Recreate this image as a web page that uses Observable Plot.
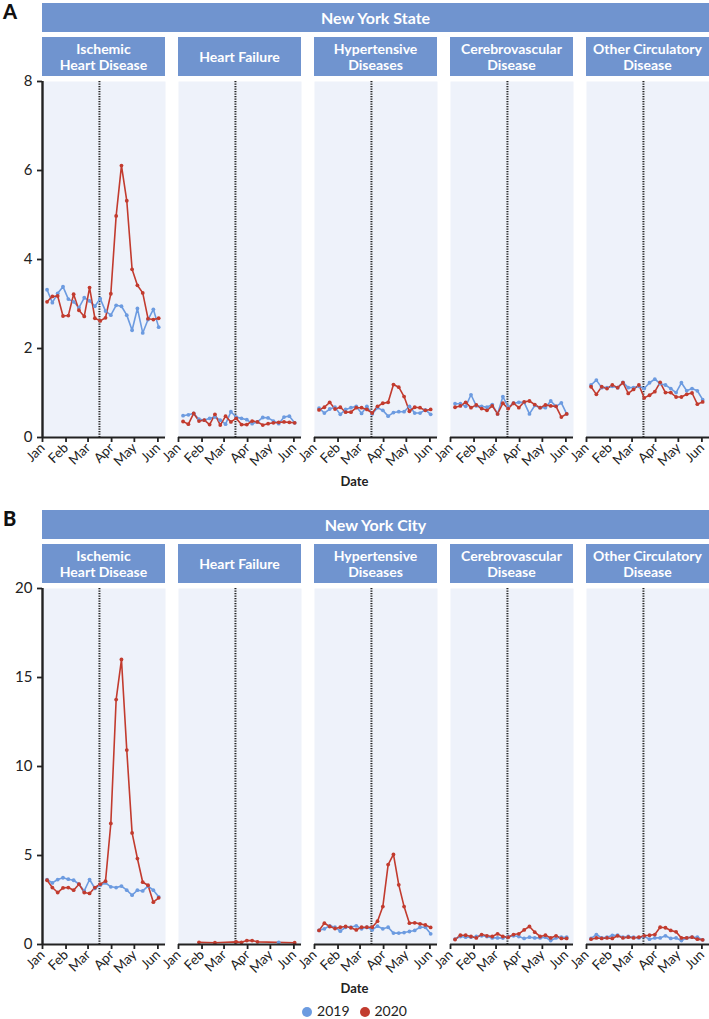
<!DOCTYPE html>
<html>
<head>
<meta charset="utf-8">
<script src="https://cdn.jsdelivr.net/npm/d3@7"></script>
<script src="https://cdn.jsdelivr.net/npm/@observablehq/plot@0.6"></script>
<style>
  html, body { margin: 0; padding: 0; background: #fff; }
  body { width: 709px; height: 1019px; position: relative; font-family: Lato, "Open Sans", sans-serif; color: #222; overflow: hidden; }
  .abs { position: absolute; }
  .letter { font-weight: 900; font-size: 20px; color: #111; }
  .band { background: #7094cf; color: #fff; font-weight: 700; font-size: 16px; display: flex; align-items: center; justify-content: center; }
  .fhead { background: #7094cf; color: #fff; font-weight: 700; font-size: 14px; line-height: 16px; display: flex; align-items: center; justify-content: center; text-align: center; }
  .xlabel { font-weight: 700; font-size: 13px; width: 709px; text-align: center; }
  .legend { font-size: 14px; display: flex; gap: 10px; justify-content: center; width: 709px; align-items: center; }
  .legend span.sw { display: inline-block; width: 10px; height: 10px; border-radius: 50%; margin-right: 5px; vertical-align: -0.5px; }
</style>
</head>
<body>
<script>
// ---- data ----
const weeks = ["2020-01-07","2020-01-14","2020-01-21","2020-01-28","2020-02-04","2020-02-11","2020-02-18","2020-02-25",
  "2020-03-03","2020-03-10","2020-03-17","2020-03-24","2020-03-31","2020-04-07","2020-04-14","2020-04-21",
  "2020-04-28","2020-05-05","2020-05-12","2020-05-19","2020-05-26","2020-06-02"];
const causes = ["Ischemic\nHeart Disease","Heart Failure","Hypertensive\nDiseases","Cerebrovascular\nDisease","Other Circulatory\nDisease"];
const years = ["2019","2020"];
const monthTicks = ["2020-01-01","2020-02-01","2020-03-01","2020-04-01","2020-05-01","2020-06-01"];
const lockdownDate = "2020-03-16";

// New York State
const nysIHD2019 = [3.32,3.03,3.24,3.39,3.11,3.05,2.92,3.14,3.07,2.95,3.12,2.84,2.75,2.97,2.95,2.75,2.41,2.90,2.35,2.65,2.88,2.48];
const nysIHD2020 = [3.05,3.17,3.18,2.73,2.74,3.22,2.86,2.72,3.37,2.68,2.62,2.69,3.23,4.98,6.11,5.32,3.78,3.42,3.25,2.67,2.65,2.68];
const nysHF2019  = [0.49,0.51,0.54,0.41,0.39,0.43,0.46,0.39,0.30,0.58,0.46,0.43,0.40,0.31,0.35,0.45,0.44,0.37,0.31,0.46,0.48,0.33];
const nysHF2020  = [0.36,0.30,0.54,0.37,0.39,0.29,0.52,0.28,0.48,0.35,0.43,0.29,0.29,0.37,0.35,0.28,0.31,0.33,0.34,0.35,0.34,0.33];
const nysHyp2019 = [0.66,0.55,0.64,0.68,0.52,0.63,0.67,0.70,0.54,0.70,0.53,0.67,0.61,0.48,0.56,0.58,0.58,0.70,0.55,0.55,0.62,0.52];
const nysHyp2020 = [0.62,0.68,0.79,0.64,0.68,0.57,0.57,0.67,0.67,0.63,0.55,0.70,0.77,0.79,1.19,1.13,0.92,0.59,0.68,0.67,0.61,0.63];
const nysCer2019 = [0.76,0.76,0.70,0.96,0.71,0.70,0.68,0.74,0.53,0.92,0.68,0.77,0.79,0.79,0.53,0.72,0.67,0.67,0.82,0.70,0.78,0.53];
const nysCer2020 = [0.68,0.71,0.79,0.67,0.73,0.65,0.61,0.71,0.53,0.77,0.65,0.77,0.67,0.80,0.82,0.74,0.67,0.73,0.71,0.70,0.46,0.53];
const nysOth2019 = [1.18,1.29,1.12,1.12,1.15,1.12,1.24,1.12,1.12,1.15,1.10,1.23,1.31,1.21,1.18,1.10,1.01,1.23,1.05,1.10,1.05,0.85];
const nysOth2020 = [1.14,0.97,1.14,1.10,1.18,1.12,1.23,0.99,1.08,1.18,0.89,0.95,1.03,1.24,1.01,1.01,0.91,0.91,0.97,1.00,0.75,0.80];

// New York City
const nycIHD2019 = [3.65,3.46,3.65,3.75,3.67,3.61,3.39,3.01,3.65,3.15,3.33,3.46,3.24,3.20,3.28,3.05,2.77,3.05,3.01,3.28,3.05,2.68];
const nycIHD2020 = [3.61,3.20,2.92,3.18,3.20,3.05,3.39,2.92,2.87,3.20,3.39,3.56,6.80,13.76,16.01,10.92,6.27,4.83,3.50,3.33,2.38,2.62];
const nycHF2019  = [null,null,null,null,null,null,null,null,null,null,null,null,null,null,null,null,null,null,0.12,null,null,null];
const nycHF2020  = [null,null,null,0.12,null,null,0.10,null,null,null,0.15,0.12,0.22,0.22,0.15,null,null,null,null,null,null,0.10];
const nycHyp2019 = [0.79,0.88,1.05,0.97,0.75,0.97,0.97,1.05,0.88,0.97,0.82,1.03,0.88,0.97,0.64,0.64,0.67,0.73,0.79,0.97,0.97,0.60];
const nycHyp2020 = [0.79,1.20,1.01,0.90,0.97,1.01,0.94,0.82,0.97,0.97,0.97,1.31,2.13,4.49,5.06,3.35,2.13,1.20,1.22,1.16,1.10,0.96];
const nycCer2019 = [0.30,0.45,0.41,0.41,0.45,0.49,0.45,0.37,0.37,0.36,0.45,0.49,0.45,0.34,0.41,0.37,0.37,0.41,0.22,0.37,0.41,0.41];
const nycCer2020 = [0.28,0.52,0.52,0.45,0.37,0.56,0.49,0.45,0.60,0.45,0.41,0.56,0.60,0.82,1.01,0.69,0.45,0.52,0.37,0.49,0.34,0.34];
const nycOth2019 = [0.34,0.56,0.37,0.41,0.51,0.52,0.41,0.45,0.41,0.37,0.45,0.30,0.37,0.37,0.49,0.34,0.37,0.22,0.37,0.41,0.41,0.26];
const nycOth2020 = [0.30,0.37,0.34,0.37,0.34,0.49,0.37,0.41,0.37,0.41,0.49,0.52,0.56,0.97,0.94,0.79,0.71,0.37,0.37,0.41,0.30,0.26];

const nysTicks = [0, 2, 4, 6, 8];
const nycTicks = [0, 5, 10, 15, 20];

// ---- build tables ----
function table(series) {
  const rows = [];
  series.forEach(([cause, year, vals]) => {
    vals.forEach((v, i) => {
      if (v != null) rows.push({cause, year, date: new Date(weeks[i]), value: v});
    });
  });
  return rows;
}
const nysData = table([
  [causes[0],"2019",nysIHD2019],[causes[0],"2020",nysIHD2020],
  [causes[1],"2019",nysHF2019],[causes[1],"2020",nysHF2020],
  [causes[2],"2019",nysHyp2019],[causes[2],"2020",nysHyp2020],
  [causes[3],"2019",nysCer2019],[causes[3],"2020",nysCer2020],
  [causes[4],"2019",nysOth2019],[causes[4],"2020",nysOth2020]
]);
const nycData = table([
  [causes[0],"2019",nycIHD2019],[causes[0],"2020",nycIHD2020],
  [causes[1],"2019",nycHF2019],[causes[1],"2020",nycHF2020],
  [causes[2],"2019",nycHyp2019],[causes[2],"2020",nycHyp2020],
  [causes[3],"2019",nycCer2019],[causes[3],"2020",nycCer2020],
  [causes[4],"2019",nycOth2019],[causes[4],"2020",nycOth2020]
]);

const BLUE = "#6c9be0", RED = "#c23b2e", HEAD = "#7094cf", BG = "#eef2fa";
const xStart = new Date("2020-01-01"), xEnd = new Date("2020-06-11");

function chart(data, ticks) {
  return Plot.plot({
    width: 709, height: 397,
    marginLeft: 42, marginRight: 0, marginTop: 5, marginBottom: 36,
    style: {fontFamily: "Lato, 'Open Sans', sans-serif", fontSize: "13.5px", color: "#222", background: "transparent", overflow: "visible"},
    fx: {domain: causes, paddingInner: 13 / 136, paddingOuter: 0, axis: null, label: null},
    x: {type: "utc", domain: [xStart, xEnd], label: null},
    y: {domain: [0, ticks[ticks.length - 1]], label: null},
    color: {domain: years, range: [BLUE, RED]},
    marks: [
      Plot.frame({fill: BG, stroke: null}),
      Plot.ruleX([new Date(lockdownDate)], {stroke: "#222", strokeWidth: 2, strokeDasharray: "1.2,1.3"}),
      Plot.line(data, {fx: "cause", x: "date", y: "value", z: "year", stroke: "year", strokeWidth: 1.6}),
      Plot.dot(data, {fx: "cause", x: "date", y: "value", fill: "year", r: 1.9, stroke: null}),
      Plot.axisX({ticks: monthTicks.map(d => new Date(d)), tickFormat: d3.utcFormat("%b"), tickRotate: -45, tickSize: 5, tickPadding: 3, strokeWidth: 1.8, stroke: "#222", fontSize: 13.5}),
      Plot.ruleY([0], {stroke: "#222", strokeWidth: 2.2}),
      Plot.axisY({ticks, tickSize: 5, tickPadding: 5, strokeWidth: 1.8, stroke: "#222", fontSize: 15, anchor: "left"}),
      Plot.ruleX([causes[0]], {fx: d => d, x: () => xStart, stroke: "#222", strokeWidth: 2.4})
    ]
  });
}

function section(top, letter, title, data, ticks) {
  const L = document.createElement("div");
  L.className = "abs letter"; L.style.left = "3px"; L.style.top = (top - 1) + "px"; L.textContent = letter;
  document.body.appendChild(L);
  const B = document.createElement("div");
  B.className = "abs band"; B.style.left = "42px"; B.style.top = (top + 3) + "px"; B.style.width = "667px"; B.style.height = "29px";
  B.textContent = title;
  document.body.appendChild(B);
  causes.forEach((c, i) => {
    const H = document.createElement("div");
    H.className = "abs fhead";
    H.style.left = (42 + i * 136) + "px"; H.style.top = (top + 37) + "px"; H.style.width = "123px"; H.style.height = "39px";
    H.innerHTML = c.split("\n").join("<br>");
    document.body.appendChild(H);
  });
  const S = document.createElement("div");
  S.className = "abs"; S.style.left = "0px"; S.style.top = (top + 76) + "px";
  S.appendChild(chart(data, ticks));
  document.body.appendChild(S);
  const D = document.createElement("div");
  D.className = "abs xlabel"; D.style.left = "0px"; D.style.top = (top + 473) + "px"; D.textContent = "Date";
  document.body.appendChild(D);
}

section(0, "A", "New York State", nysData, nysTicks);
section(507, "B", "New York City", nycData, nycTicks);

const leg = document.createElement("div");
leg.className = "abs legend"; leg.style.left = "0px"; leg.style.top = "1002px";
leg.innerHTML = years.map((y, i) => `<span><span class="sw" style="background:${[BLUE, RED][i]}"></span>${y}</span>`).join("");
document.body.appendChild(leg);
</script>
</body>
</html>
